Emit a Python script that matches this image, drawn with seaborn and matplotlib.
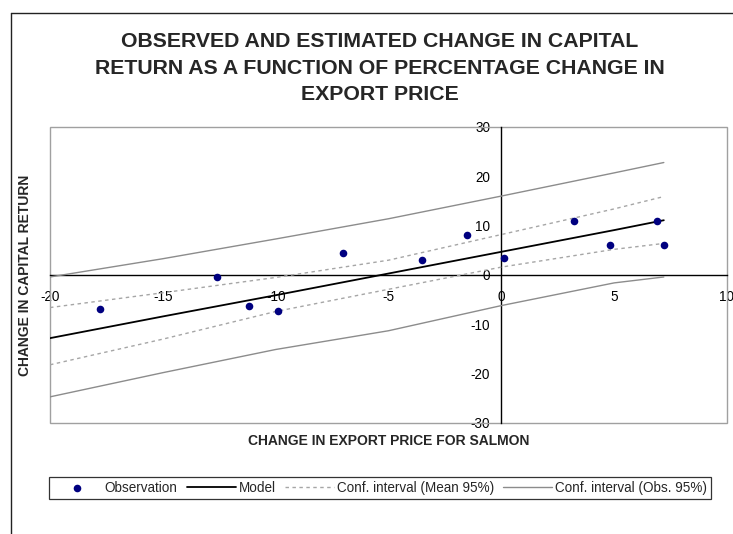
import matplotlib
matplotlib.use("Agg")
import matplotlib.pyplot as plt
from matplotlib.lines import Line2D
from matplotlib.patches import Rectangle
import pandas as pd
import seaborn as sns

# Observed data: % change in export price vs change in capital return
price_change = [-17.8, -12.6, -11.2, -9.9, -7.0, -3.5, -1.5, 0.1, 3.2, 4.8, 6.9, 7.2]
capital_return = [-6.8, -0.5, -6.2, -7.2, 4.4, 3.0, 8.2, 3.5, 10.9, 6.0, 10.9, 6.0]

# Fitted model and confidence bands evaluated along the price axis
grid = [-20, -15, -10, -5, 0, 5, 7.2]
model = [-12.8, -8.4, -4.1, 0.3, 4.7, 9.1, 11.1]
mean_upper = [-6.6, -3.6, -0.5, 3.0, 8.2, 13.4, 15.9]
mean_lower = [-18.2, -13.0, -7.4, -2.9, 1.6, 5.2, 6.4]
obs_upper = [-0.4, 3.3, 7.3, 11.4, 16.0, 20.7, 22.8]
obs_lower = [-24.7, -19.8, -15.1, -11.3, -6.2, -1.6, -0.4]

x_ticks = [-20, -15, -10, -5, 0, 5, 10]
y_ticks = [-30, -20, -10, 0, 10, 20, 30]

obs = pd.DataFrame({"price": price_change, "ret": capital_return})
bands = pd.DataFrame({
    "price": grid, "model": model,
    "mean_upper": mean_upper, "mean_lower": mean_lower,
    "obs_upper": obs_upper, "obs_lower": obs_lower,
})

sns.set_style("white")
plt.rcParams["font.family"] = ["Liberation Sans", "DejaVu Sans"]

fig = plt.figure(figsize=(7.33, 5.34), dpi=100)
W, H = 733, 534
ax = fig.add_axes([50 / W, 1 - 423 / H, 677 / W, 296 / H])

navy = "#000080"
band_grey = "#a6a6a6"
obs_grey = "#8c8c8c"
dash = (0, (2.5, 2.5))

sns.scatterplot(data=obs, x="price", y="ret", ax=ax, color=navy, s=30,
                edgecolor=navy, linewidth=0, zorder=5, label="Observation")
sns.lineplot(data=bands, x="price", y="model", ax=ax, color="black",
             linewidth=1.3, label="Model", zorder=4)
sns.lineplot(data=bands, x="price", y="mean_upper", ax=ax, color=band_grey,
             linewidth=1.0, linestyle=dash, label="Conf. interval (Mean 95%)", zorder=3)
sns.lineplot(data=bands, x="price", y="mean_lower", ax=ax, color=band_grey,
             linewidth=1.0, linestyle=dash, label="_nolegend_", zorder=3)
sns.lineplot(data=bands, x="price", y="obs_upper", ax=ax, color=obs_grey,
             linewidth=1.0, label="Conf. interval (Obs. 95%)", zorder=3)
sns.lineplot(data=bands, x="price", y="obs_lower", ax=ax, color=obs_grey,
             linewidth=1.0, label="_nolegend_", zorder=3)

ax.set_xlim(-20, 10)
ax.set_ylim(-30, 30)
ax.set_xticks(x_ticks)
ax.set_yticks(y_ticks)
ax.set_xticklabels([str(t) for t in x_ticks])
ax.set_yticklabels([str(t) for t in y_ticks])

# axes cross at the origin
for side in ("left", "bottom"):
    ax.spines[side].set_position(("data", 0))
    ax.spines[side].set_color("black")
    ax.spines[side].set_linewidth(1.0)
for side in ("top", "right"):
    ax.spines[side].set_visible(False)
ax.add_patch(Rectangle((0, 0), 1, 1, transform=ax.transAxes, fill=False,
                       edgecolor="#a0a0a0", linewidth=1.0, clip_on=False, zorder=1))

ax.tick_params(axis="both", direction="inout", length=6, width=1.0,
               color="black", labelsize=9.75, labelcolor="black")
ax.tick_params(axis="x", pad=8)
ax.tick_params(axis="y", pad=5)

ax.set_xlabel("CHANGE IN EXPORT PRICE FOR SALMON", fontsize=10, fontweight="bold")
ax.set_ylabel("CHANGE IN CAPITAL RETURN", fontsize=10, fontweight="bold")
ax.xaxis.set_label_coords(0.5, -0.037)
ax.yaxis.set_label_coords(-0.026, 0.5)

fig.text(380 / W, 1 - 68 / H,
         "OBSERVED AND ESTIMATED CHANGE IN CAPITAL\n"
         "RETURN AS A FUNCTION OF PERCENTAGE CHANGE IN\n"
         "EXPORT PRICE",
         ha="center", va="center", fontsize=15.3, fontweight="bold",
         linespacing=1.48)

# legend below the plot
handles, labels = ax.get_legend_handles_labels()
ax.get_legend().remove()
leg = fig.legend(handles, labels, loc="lower left", ncol=4, mode="expand",
                 bbox_to_anchor=(49 / W, 1 - 499 / H, 662 / W, 27 / H),
                 frameon=True, fancybox=False, shadow=False, fontsize=9.75,
                 handlelength=3.6, handletextpad=0.2, borderpad=0.3,
                 columnspacing=0.4, borderaxespad=0)
leg.get_frame().set_edgecolor("black")
leg.get_frame().set_linewidth(0.9)

# outer chart border (top and left edges)
fig.add_artist(Line2D([11 / W, 1], [1 - 13 / H, 1 - 13 / H], color="#222222", linewidth=1.0))
fig.add_artist(Line2D([11 / W, 11 / W], [0, 1 - 13 / H], color="#222222", linewidth=1.0))

fig.savefig("out.png", dpi=100)
